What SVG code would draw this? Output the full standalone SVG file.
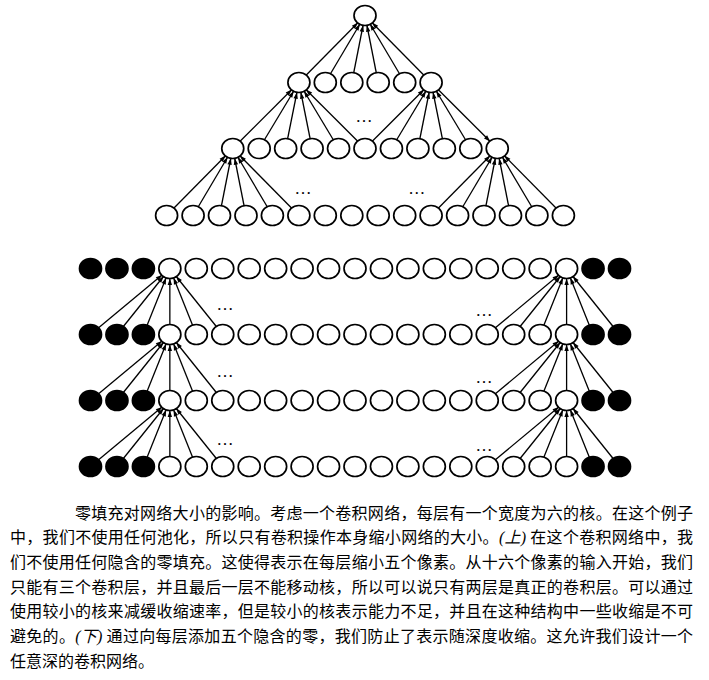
<svg xmlns="http://www.w3.org/2000/svg" width="709" height="680" viewBox="0 0 709 680">
<style>
.n{fill:#fff;stroke:#000;stroke-width:1.7}
.z{fill:#000;stroke:#000;stroke-width:1.7}
.c{stroke:#000;stroke-width:1.3;fill:none;marker-end:url(#ah)}
.dots{font-family:"Liberation Serif",serif;font-size:17px;text-anchor:middle;fill:#000}
.cap{font-family:"Noto Sans CJK SC","Noto Sans",sans-serif;font-size:16px;fill:#000}
.it{font-family:"Liberation Serif","Noto Sans CJK SC",serif;font-style:italic}
</style>
<defs>
<marker id="ah" markerWidth="8" markerHeight="6" refX="16.5" refY="2.2" orient="auto" markerUnits="userSpaceOnUse" overflow="visible">
<path d="M0,0 L6.5,2.2 L0,4.4 z" fill="#000"/>
</marker>
</defs>
<rect width="709" height="680" fill="#fff"/>
<g id="connectors">
<!-- to top -->
<line class="c" x1="298.9" y1="82.5" x2="365" y2="15.5"/>
<line class="c" x1="325.3" y1="82.5" x2="365" y2="15.5"/>
<line class="c" x1="351.8" y1="82.5" x2="365" y2="15.5"/>
<line class="c" x1="378.2" y1="82.5" x2="365" y2="15.5"/>
<line class="c" x1="404.7" y1="82.5" x2="365" y2="15.5"/>
<line class="c" x1="431.1" y1="82.5" x2="365" y2="15.5"/>
<!-- to L2[0] -->
<line class="c" x1="232.75" y1="148.5" x2="298.9" y2="82.5"/>
<line class="c" x1="259.2" y1="148.5" x2="298.9" y2="82.5"/>
<line class="c" x1="285.65" y1="148.5" x2="298.9" y2="82.5"/>
<line class="c" x1="312.1" y1="148.5" x2="298.9" y2="82.5"/>
<line class="c" x1="338.55" y1="148.5" x2="298.9" y2="82.5"/>
<line class="c" x1="365" y1="148.5" x2="298.9" y2="82.5"/>
<!-- to L2[5] -->
<line class="c" x1="365" y1="148.5" x2="431.1" y2="82.5"/>
<line class="c" x1="391.45" y1="148.5" x2="431.1" y2="82.5"/>
<line class="c" x1="417.9" y1="148.5" x2="431.1" y2="82.5"/>
<line class="c" x1="444.35" y1="148.5" x2="431.1" y2="82.5"/>
<line class="c" x1="470.8" y1="148.5" x2="431.1" y2="82.5"/>
<line class="c" x1="431.1" y1="82.5" x2="497.25" y2="148.5"/>
<!-- to L3[0] -->
<line class="c" x1="166.6" y1="215.5" x2="232.75" y2="148.5"/>
<line class="c" x1="193.1" y1="215.5" x2="232.75" y2="148.5"/>
<line class="c" x1="219.5" y1="215.5" x2="232.75" y2="148.5"/>
<line class="c" x1="246" y1="215.5" x2="232.75" y2="148.5"/>
<line class="c" x1="272.4" y1="215.5" x2="232.75" y2="148.5"/>
<line class="c" x1="298.9" y1="215.5" x2="232.75" y2="148.5"/>
<!-- to L3[10] -->
<line class="c" x1="431.1" y1="215.5" x2="497.25" y2="148.5"/>
<line class="c" x1="457.6" y1="215.5" x2="497.25" y2="148.5"/>
<line class="c" x1="484" y1="215.5" x2="497.25" y2="148.5"/>
<line class="c" x1="510.5" y1="215.5" x2="497.25" y2="148.5"/>
<line class="c" x1="536.9" y1="215.5" x2="497.25" y2="148.5"/>
<line class="c" x1="563.4" y1="215.5" x2="497.25" y2="148.5"/>
<!-- bottom: row2 -> row1 -->
<line class="c" x1="90.5" y1="334.5" x2="169.85" y2="268.5"/>
<line class="c" x1="116.95" y1="334.5" x2="169.85" y2="268.5"/>
<line class="c" x1="143.4" y1="334.5" x2="169.85" y2="268.5"/>
<line class="c" x1="169.85" y1="334.5" x2="169.85" y2="268.5"/>
<line class="c" x1="196.3" y1="334.5" x2="169.85" y2="268.5"/>
<line class="c" x1="222.75" y1="334.5" x2="169.85" y2="268.5"/>
<line class="c" x1="487.25" y1="334.5" x2="566.6" y2="268.5"/>
<line class="c" x1="513.7" y1="334.5" x2="566.6" y2="268.5"/>
<line class="c" x1="540.15" y1="334.5" x2="566.6" y2="268.5"/>
<line class="c" x1="566.6" y1="334.5" x2="566.6" y2="268.5"/>
<line class="c" x1="593.05" y1="334.5" x2="566.6" y2="268.5"/>
<line class="c" x1="619.5" y1="334.5" x2="566.6" y2="268.5"/>
<!-- row3 -> row2 -->
<line class="c" x1="90.5" y1="400.5" x2="169.85" y2="334.5"/>
<line class="c" x1="116.95" y1="400.5" x2="169.85" y2="334.5"/>
<line class="c" x1="143.4" y1="400.5" x2="169.85" y2="334.5"/>
<line class="c" x1="169.85" y1="400.5" x2="169.85" y2="334.5"/>
<line class="c" x1="196.3" y1="400.5" x2="169.85" y2="334.5"/>
<line class="c" x1="222.75" y1="400.5" x2="169.85" y2="334.5"/>
<line class="c" x1="487.25" y1="400.5" x2="566.6" y2="334.5"/>
<line class="c" x1="513.7" y1="400.5" x2="566.6" y2="334.5"/>
<line class="c" x1="540.15" y1="400.5" x2="566.6" y2="334.5"/>
<line class="c" x1="566.6" y1="400.5" x2="566.6" y2="334.5"/>
<line class="c" x1="593.05" y1="400.5" x2="566.6" y2="334.5"/>
<line class="c" x1="619.5" y1="400.5" x2="566.6" y2="334.5"/>
<!-- row4 -> row3 -->
<line class="c" x1="90.5" y1="466.5" x2="169.85" y2="400.5"/>
<line class="c" x1="116.95" y1="466.5" x2="169.85" y2="400.5"/>
<line class="c" x1="143.4" y1="466.5" x2="169.85" y2="400.5"/>
<line class="c" x1="169.85" y1="466.5" x2="169.85" y2="400.5"/>
<line class="c" x1="196.3" y1="466.5" x2="169.85" y2="400.5"/>
<line class="c" x1="222.75" y1="466.5" x2="169.85" y2="400.5"/>
<line class="c" x1="487.25" y1="466.5" x2="566.6" y2="400.5"/>
<line class="c" x1="513.7" y1="466.5" x2="566.6" y2="400.5"/>
<line class="c" x1="540.15" y1="466.5" x2="566.6" y2="400.5"/>
<line class="c" x1="566.6" y1="466.5" x2="566.6" y2="400.5"/>
<line class="c" x1="593.05" y1="466.5" x2="566.6" y2="400.5"/>
<line class="c" x1="619.5" y1="466.5" x2="566.6" y2="400.5"/>
</g>
<g id="top-graph">
<g id="t1"><ellipse class="n" cx="365" cy="15.5" rx="11" ry="10"/></g>
<g id="t2-0"><ellipse class="n" cx="298.9" cy="82.5" rx="11" ry="10"/></g>
<g id="t2-1"><ellipse class="n" cx="325.3" cy="82.5" rx="11" ry="10"/></g>
<g id="t2-2"><ellipse class="n" cx="351.8" cy="82.5" rx="11" ry="10"/></g>
<g id="t2-3"><ellipse class="n" cx="378.2" cy="82.5" rx="11" ry="10"/></g>
<g id="t2-4"><ellipse class="n" cx="404.7" cy="82.5" rx="11" ry="10"/></g>
<g id="t2-5"><ellipse class="n" cx="431.1" cy="82.5" rx="11" ry="10"/></g>
<g id="t3-0"><ellipse class="n" cx="232.75" cy="148.5" rx="11" ry="10"/></g>
<g id="t3-1"><ellipse class="n" cx="259.2" cy="148.5" rx="11" ry="10"/></g>
<g id="t3-2"><ellipse class="n" cx="285.65" cy="148.5" rx="11" ry="10"/></g>
<g id="t3-3"><ellipse class="n" cx="312.1" cy="148.5" rx="11" ry="10"/></g>
<g id="t3-4"><ellipse class="n" cx="338.55" cy="148.5" rx="11" ry="10"/></g>
<g id="t3-5"><ellipse class="n" cx="365" cy="148.5" rx="11" ry="10"/></g>
<g id="t3-6"><ellipse class="n" cx="391.45" cy="148.5" rx="11" ry="10"/></g>
<g id="t3-7"><ellipse class="n" cx="417.9" cy="148.5" rx="11" ry="10"/></g>
<g id="t3-8"><ellipse class="n" cx="444.35" cy="148.5" rx="11" ry="10"/></g>
<g id="t3-9"><ellipse class="n" cx="470.8" cy="148.5" rx="11" ry="10"/></g>
<g id="t3-10"><ellipse class="n" cx="497.25" cy="148.5" rx="11" ry="10"/></g>
<g id="t4-0"><ellipse class="n" cx="166.6" cy="215.5" rx="11" ry="10"/></g>
<g id="t4-1"><ellipse class="n" cx="193.1" cy="215.5" rx="11" ry="10"/></g>
<g id="t4-2"><ellipse class="n" cx="219.5" cy="215.5" rx="11" ry="10"/></g>
<g id="t4-3"><ellipse class="n" cx="246" cy="215.5" rx="11" ry="10"/></g>
<g id="t4-4"><ellipse class="n" cx="272.4" cy="215.5" rx="11" ry="10"/></g>
<g id="t4-5"><ellipse class="n" cx="298.9" cy="215.5" rx="11" ry="10"/></g>
<g id="t4-6"><ellipse class="n" cx="325.3" cy="215.5" rx="11" ry="10"/></g>
<g id="t4-7"><ellipse class="n" cx="351.8" cy="215.5" rx="11" ry="10"/></g>
<g id="t4-8"><ellipse class="n" cx="378.2" cy="215.5" rx="11" ry="10"/></g>
<g id="t4-9"><ellipse class="n" cx="404.7" cy="215.5" rx="11" ry="10"/></g>
<g id="t4-10"><ellipse class="n" cx="431.1" cy="215.5" rx="11" ry="10"/></g>
<g id="t4-11"><ellipse class="n" cx="457.6" cy="215.5" rx="11" ry="10"/></g>
<g id="t4-12"><ellipse class="n" cx="484" cy="215.5" rx="11" ry="10"/></g>
<g id="t4-13"><ellipse class="n" cx="510.5" cy="215.5" rx="11" ry="10"/></g>
<g id="t4-14"><ellipse class="n" cx="536.9" cy="215.5" rx="11" ry="10"/></g>
<g id="t4-15"><ellipse class="n" cx="563.4" cy="215.5" rx="11" ry="10"/></g>
<text class="dots" x="364" y="121.7">…</text>
<text class="dots" x="303" y="193.7">…</text>
<text class="dots" x="416.7" y="193.7">…</text>
</g>
<g id="bottom-graph">
<g id="b1-0"><ellipse class="z" cx="90.5" cy="268.5" rx="11" ry="10"/></g>
<g id="b1-1"><ellipse class="z" cx="116.95" cy="268.5" rx="11" ry="10"/></g>
<g id="b1-2"><ellipse class="z" cx="143.4" cy="268.5" rx="11" ry="10"/></g>
<g id="b1-3"><ellipse class="n" cx="169.85" cy="268.5" rx="11" ry="10"/></g>
<g id="b1-4"><ellipse class="n" cx="196.3" cy="268.5" rx="11" ry="10"/></g>
<g id="b1-5"><ellipse class="n" cx="222.75" cy="268.5" rx="11" ry="10"/></g>
<g id="b1-6"><ellipse class="n" cx="249.2" cy="268.5" rx="11" ry="10"/></g>
<g id="b1-7"><ellipse class="n" cx="275.65" cy="268.5" rx="11" ry="10"/></g>
<g id="b1-8"><ellipse class="n" cx="302.1" cy="268.5" rx="11" ry="10"/></g>
<g id="b1-9"><ellipse class="n" cx="328.55" cy="268.5" rx="11" ry="10"/></g>
<g id="b1-10"><ellipse class="n" cx="355" cy="268.5" rx="11" ry="10"/></g>
<g id="b1-11"><ellipse class="n" cx="381.45" cy="268.5" rx="11" ry="10"/></g>
<g id="b1-12"><ellipse class="n" cx="407.9" cy="268.5" rx="11" ry="10"/></g>
<g id="b1-13"><ellipse class="n" cx="434.35" cy="268.5" rx="11" ry="10"/></g>
<g id="b1-14"><ellipse class="n" cx="460.8" cy="268.5" rx="11" ry="10"/></g>
<g id="b1-15"><ellipse class="n" cx="487.25" cy="268.5" rx="11" ry="10"/></g>
<g id="b1-16"><ellipse class="n" cx="513.7" cy="268.5" rx="11" ry="10"/></g>
<g id="b1-17"><ellipse class="n" cx="540.15" cy="268.5" rx="11" ry="10"/></g>
<g id="b1-18"><ellipse class="n" cx="566.6" cy="268.5" rx="11" ry="10"/></g>
<g id="b1-19"><ellipse class="z" cx="593.05" cy="268.5" rx="11" ry="10"/></g>
<g id="b1-20"><ellipse class="z" cx="619.5" cy="268.5" rx="11" ry="10"/></g>
<g id="b2-0"><ellipse class="z" cx="90.5" cy="334.5" rx="11" ry="10"/></g>
<g id="b2-1"><ellipse class="z" cx="116.95" cy="334.5" rx="11" ry="10"/></g>
<g id="b2-2"><ellipse class="z" cx="143.4" cy="334.5" rx="11" ry="10"/></g>
<g id="b2-3"><ellipse class="n" cx="169.85" cy="334.5" rx="11" ry="10"/></g>
<g id="b2-4"><ellipse class="n" cx="196.3" cy="334.5" rx="11" ry="10"/></g>
<g id="b2-5"><ellipse class="n" cx="222.75" cy="334.5" rx="11" ry="10"/></g>
<g id="b2-6"><ellipse class="n" cx="249.2" cy="334.5" rx="11" ry="10"/></g>
<g id="b2-7"><ellipse class="n" cx="275.65" cy="334.5" rx="11" ry="10"/></g>
<g id="b2-8"><ellipse class="n" cx="302.1" cy="334.5" rx="11" ry="10"/></g>
<g id="b2-9"><ellipse class="n" cx="328.55" cy="334.5" rx="11" ry="10"/></g>
<g id="b2-10"><ellipse class="n" cx="355" cy="334.5" rx="11" ry="10"/></g>
<g id="b2-11"><ellipse class="n" cx="381.45" cy="334.5" rx="11" ry="10"/></g>
<g id="b2-12"><ellipse class="n" cx="407.9" cy="334.5" rx="11" ry="10"/></g>
<g id="b2-13"><ellipse class="n" cx="434.35" cy="334.5" rx="11" ry="10"/></g>
<g id="b2-14"><ellipse class="n" cx="460.8" cy="334.5" rx="11" ry="10"/></g>
<g id="b2-15"><ellipse class="n" cx="487.25" cy="334.5" rx="11" ry="10"/></g>
<g id="b2-16"><ellipse class="n" cx="513.7" cy="334.5" rx="11" ry="10"/></g>
<g id="b2-17"><ellipse class="n" cx="540.15" cy="334.5" rx="11" ry="10"/></g>
<g id="b2-18"><ellipse class="n" cx="566.6" cy="334.5" rx="11" ry="10"/></g>
<g id="b2-19"><ellipse class="z" cx="593.05" cy="334.5" rx="11" ry="10"/></g>
<g id="b2-20"><ellipse class="z" cx="619.5" cy="334.5" rx="11" ry="10"/></g>
<g id="b3-0"><ellipse class="z" cx="90.5" cy="400.5" rx="11" ry="10"/></g>
<g id="b3-1"><ellipse class="z" cx="116.95" cy="400.5" rx="11" ry="10"/></g>
<g id="b3-2"><ellipse class="z" cx="143.4" cy="400.5" rx="11" ry="10"/></g>
<g id="b3-3"><ellipse class="n" cx="169.85" cy="400.5" rx="11" ry="10"/></g>
<g id="b3-4"><ellipse class="n" cx="196.3" cy="400.5" rx="11" ry="10"/></g>
<g id="b3-5"><ellipse class="n" cx="222.75" cy="400.5" rx="11" ry="10"/></g>
<g id="b3-6"><ellipse class="n" cx="249.2" cy="400.5" rx="11" ry="10"/></g>
<g id="b3-7"><ellipse class="n" cx="275.65" cy="400.5" rx="11" ry="10"/></g>
<g id="b3-8"><ellipse class="n" cx="302.1" cy="400.5" rx="11" ry="10"/></g>
<g id="b3-9"><ellipse class="n" cx="328.55" cy="400.5" rx="11" ry="10"/></g>
<g id="b3-10"><ellipse class="n" cx="355" cy="400.5" rx="11" ry="10"/></g>
<g id="b3-11"><ellipse class="n" cx="381.45" cy="400.5" rx="11" ry="10"/></g>
<g id="b3-12"><ellipse class="n" cx="407.9" cy="400.5" rx="11" ry="10"/></g>
<g id="b3-13"><ellipse class="n" cx="434.35" cy="400.5" rx="11" ry="10"/></g>
<g id="b3-14"><ellipse class="n" cx="460.8" cy="400.5" rx="11" ry="10"/></g>
<g id="b3-15"><ellipse class="n" cx="487.25" cy="400.5" rx="11" ry="10"/></g>
<g id="b3-16"><ellipse class="n" cx="513.7" cy="400.5" rx="11" ry="10"/></g>
<g id="b3-17"><ellipse class="n" cx="540.15" cy="400.5" rx="11" ry="10"/></g>
<g id="b3-18"><ellipse class="n" cx="566.6" cy="400.5" rx="11" ry="10"/></g>
<g id="b3-19"><ellipse class="z" cx="593.05" cy="400.5" rx="11" ry="10"/></g>
<g id="b3-20"><ellipse class="z" cx="619.5" cy="400.5" rx="11" ry="10"/></g>
<g id="b4-0"><ellipse class="z" cx="90.5" cy="466.5" rx="11" ry="10"/></g>
<g id="b4-1"><ellipse class="z" cx="116.95" cy="466.5" rx="11" ry="10"/></g>
<g id="b4-2"><ellipse class="z" cx="143.4" cy="466.5" rx="11" ry="10"/></g>
<g id="b4-3"><ellipse class="n" cx="169.85" cy="466.5" rx="11" ry="10"/></g>
<g id="b4-4"><ellipse class="n" cx="196.3" cy="466.5" rx="11" ry="10"/></g>
<g id="b4-5"><ellipse class="n" cx="222.75" cy="466.5" rx="11" ry="10"/></g>
<g id="b4-6"><ellipse class="n" cx="249.2" cy="466.5" rx="11" ry="10"/></g>
<g id="b4-7"><ellipse class="n" cx="275.65" cy="466.5" rx="11" ry="10"/></g>
<g id="b4-8"><ellipse class="n" cx="302.1" cy="466.5" rx="11" ry="10"/></g>
<g id="b4-9"><ellipse class="n" cx="328.55" cy="466.5" rx="11" ry="10"/></g>
<g id="b4-10"><ellipse class="n" cx="355" cy="466.5" rx="11" ry="10"/></g>
<g id="b4-11"><ellipse class="n" cx="381.45" cy="466.5" rx="11" ry="10"/></g>
<g id="b4-12"><ellipse class="n" cx="407.9" cy="466.5" rx="11" ry="10"/></g>
<g id="b4-13"><ellipse class="n" cx="434.35" cy="466.5" rx="11" ry="10"/></g>
<g id="b4-14"><ellipse class="n" cx="460.8" cy="466.5" rx="11" ry="10"/></g>
<g id="b4-15"><ellipse class="n" cx="487.25" cy="466.5" rx="11" ry="10"/></g>
<g id="b4-16"><ellipse class="n" cx="513.7" cy="466.5" rx="11" ry="10"/></g>
<g id="b4-17"><ellipse class="n" cx="540.15" cy="466.5" rx="11" ry="10"/></g>
<g id="b4-18"><ellipse class="n" cx="566.6" cy="466.5" rx="11" ry="10"/></g>
<g id="b4-19"><ellipse class="z" cx="593.05" cy="466.5" rx="11" ry="10"/></g>
<g id="b4-20"><ellipse class="z" cx="619.5" cy="466.5" rx="11" ry="10"/></g>
<text class="dots" x="225" y="310.3">…</text>
<text class="dots" x="225" y="377">…</text>
<text class="dots" x="225" y="445">…</text>
<text class="dots" x="484" y="316.3">…</text>
<text class="dots" x="484" y="383">…</text>
<text class="dots" x="484" y="451">…</text>
</g>
<g id="caption">
<text class="cap" x="75" y="518.6" textLength="618" lengthAdjust="spacing">零填充对网络大小的影响。考虑一个卷积网络，每层有一个宽度为六的核。在这个例子</text>
<text class="cap" x="10" y="543.3" textLength="683" lengthAdjust="spacing">中，我们不使用任何池化，所以只有卷积操作本身缩小网络的大小。<tspan class="it">(上)</tspan> 在这个卷积网络中，我</text>
<text class="cap" x="10" y="568" textLength="683" lengthAdjust="spacing">们不使用任何隐含的零填充。这使得表示在每层缩小五个像素。从十六个像素的输入开始，我们</text>
<text class="cap" x="10" y="592.7" textLength="683" lengthAdjust="spacing">只能有三个卷积层，并且最后一层不能移动核，所以可以说只有两层是真正的卷积层。可以通过</text>
<text class="cap" x="10" y="617.4" textLength="683" lengthAdjust="spacing">使用较小的核来减缓收缩速率，但是较小的核表示能力不足，并且在这种结构中一些收缩是不可</text>
<text class="cap" x="10" y="642.1" textLength="683" lengthAdjust="spacing">避免的。<tspan class="it">(下)</tspan> 通过向每层添加五个隐含的零，我们防止了表示随深度收缩。这允许我们设计一个</text>
<text class="cap" x="10" y="666.8">任意深的卷积网络。</text>
</g>
</svg>
